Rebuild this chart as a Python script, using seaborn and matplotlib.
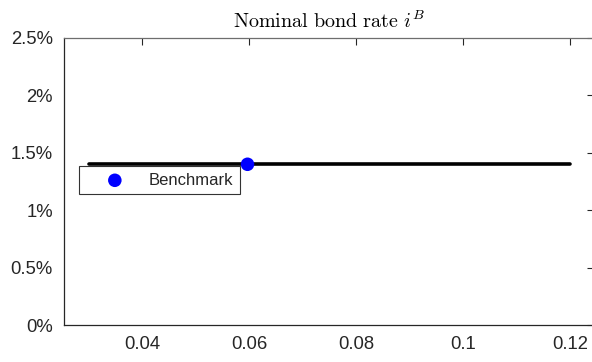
import numpy as np
import pandas as pd
import matplotlib
matplotlib.use("Agg")
import matplotlib.pyplot as plt
import seaborn as sns

# Nominal bond rate (in %) across the volatility grid
sigma_grid = [0.03, 0.045, 0.06, 0.075, 0.09, 0.105, 0.12]
bond_rate = [1.4, 1.4, 1.4, 1.4, 1.4, 1.4, 1.4]

# Benchmark calibration point
bench_sigma = [0.0597]
bench_rate = [1.4]

x_ticks = [0.04, 0.06, 0.08, 0.1, 0.12]
x_tick_labels = ["0.04", "0.06", "0.08", "0.1", "0.12"]
y_ticks = [0, 0.5, 1, 1.5, 2, 2.5]
y_tick_labels = ["0%", "0.5%", "1%", "1.5%", "2%", "2.5%"]

sns.set_style("white")
plt.rcParams["font.family"] = ["Liberation Sans", "DejaVu Sans"]
plt.rcParams["mathtext.fontset"] = "cm"

axis_col = "#262626"

fig = plt.figure(figsize=(5.92, 3.62), dpi=100)
# axes box runs slightly past the right edge of the canvas
ax = fig.add_axes([64 / 592, 1 - 325 / 362, 530 / 592, 287 / 362])

line_df = pd.DataFrame({"sigma": sigma_grid, "rate": bond_rate})
bench_df = pd.DataFrame({"sigma": bench_sigma, "rate": bench_rate})

sns.lineplot(data=line_df, x="sigma", y="rate", color="black",
             linewidth=2.6, ax=ax, legend=False)
sns.scatterplot(data=bench_df, x="sigma", y="rate", color="#0000ff",
                s=95, edgecolor="none", ax=ax, label="Benchmark", zorder=5)

ax.set_xlim(0.0254, 0.0254 + 530 / 5350)
ax.set_ylim(0, 2.5)
ax.set_xticks(x_ticks)
ax.set_xticklabels(x_tick_labels)
ax.set_yticks(y_ticks)
ax.set_yticklabels(y_tick_labels)
ax.set_xlabel("")
ax.set_ylabel("")

ax.tick_params(direction="in", length=5, width=0.8, colors=axis_col,
               labelsize=13.3, top=True, right=True, pad=8,
               labelcolor=axis_col)
for side in ["left", "bottom", "top", "right"]:
    ax.spines[side].set_visible(True)
    ax.spines[side].set_color(axis_col)
    ax.spines[side].set_linewidth(0.9)
ax.spines["top"].set_color("#6e6e6e")

ax.set_title(r"$\mathrm{Nominal\ bond\ rate}\ i^B$", fontsize=14.5,
             color="black", pad=7)

leg = ax.legend(loc="upper left", bbox_to_anchor=(15 / 530, (325 - 166) / 287),
                borderaxespad=0, frameon=True, fancybox=False, framealpha=1,
                edgecolor="#333333", fontsize=12, borderpad=0.4,
                handlelength=3.5, handletextpad=0.28, markerscale=1.0)
leg.get_frame().set_linewidth(0.8)

fig.savefig("out.png", dpi=100)
